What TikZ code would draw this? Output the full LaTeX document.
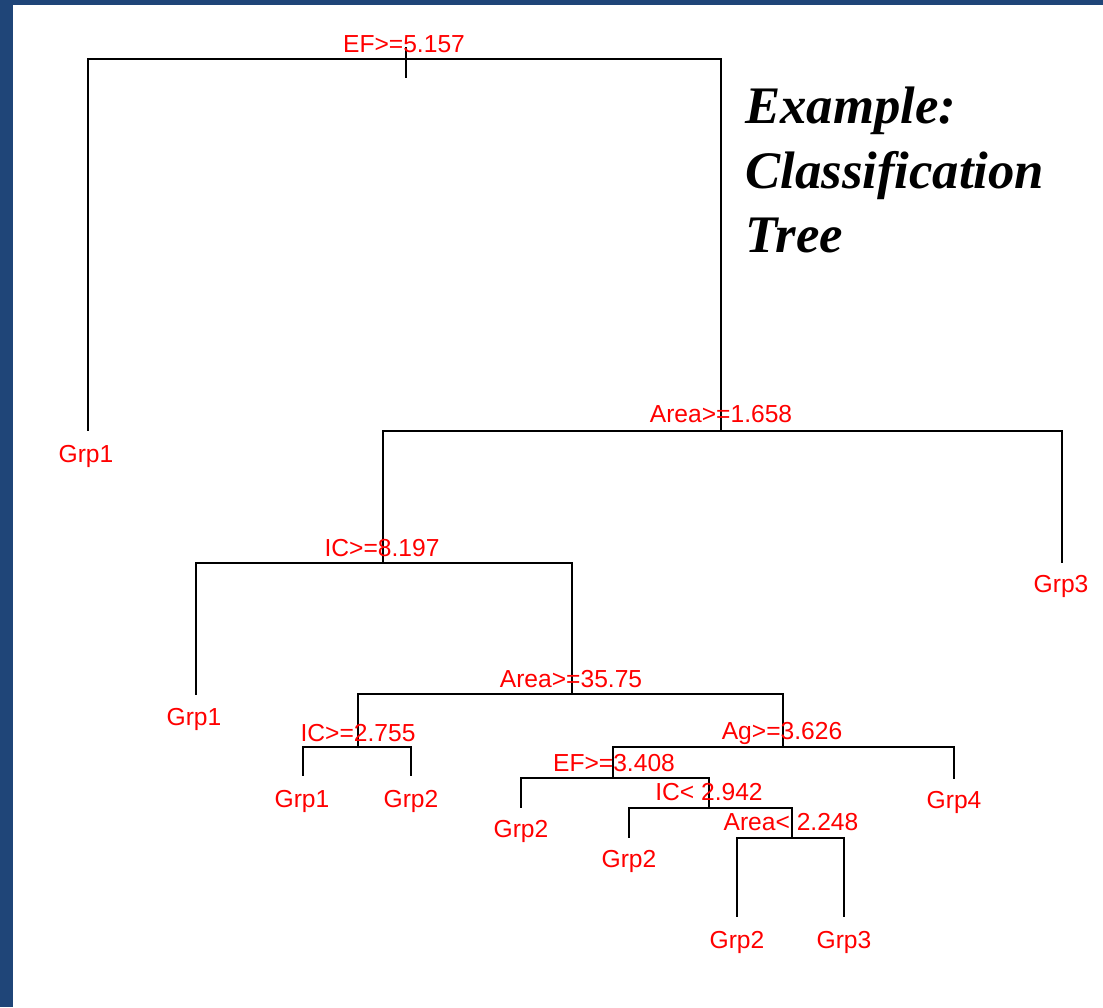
\documentclass[tikz,border=0pt]{standalone}
\usepackage{fontspec}
\setmainfont{Liberation Sans}
\newfontfamily\titlefont{Liberation Serif}
\definecolor{slideblue}{RGB}{31,69,120}

\begin{document}
\begin{tikzpicture}[x=0.025cm,y=-0.025cm,
    rule/.style={text=red,font=\fontsize{17.5}{20}\selectfont,inner sep=0pt,anchor=base},
    grp/.style={rule},
    heading/.style={font=\titlefont\bfseries\itshape\fontsize{37.5}{46}\selectfont,inner sep=0pt,anchor=base west}]
        \useasboundingbox (0,0) rectangle (1103,1007);
        \fill[slideblue] (0,0) rectangle (1103,1007);
        \fill[white] (12.7,5) rectangle (1103,1007);

        % split points
        \coordinate (s0) at (406, 59);
        \coordinate (s1) at (721, 431);
        \coordinate (s2) at (383, 563);
        \coordinate (s3) at (572, 694);
        \coordinate (s4) at (358, 747);
        \coordinate (s5) at (783, 747);
        \coordinate (s6) at (613, 778);
        \coordinate (s7) at (709, 808);
        \coordinate (s8) at (792, 838);
        \coordinate (rtop) at (406, 47);
        \coordinate (rbot) at (406, 78);

        % leaf ends
        \coordinate (t1) at (88, 431);
        \coordinate (t2) at (1062, 563);
        \coordinate (t3) at (196, 695);
        \coordinate (t4) at (303, 776);
        \coordinate (t5) at (411, 776);
        \coordinate (t6) at (954, 779);
        \coordinate (t7) at (521, 808);
        \coordinate (t8) at (629, 838);
        \coordinate (t9) at (737, 917);
        \coordinate (t10) at (844, 917);

        \draw[line width=1.5pt] (rtop) -- (rbot);
        \path[every edge/.style={draw,line width=1.5pt,to path={-| (\tikztotarget)}}]
            (s0) edge (t1) edge (s1)
            (s1) edge (s2) edge (t2)
            (s2) edge (t3) edge (s3)
            (s3) edge (s4) edge (s5)
            (s4) edge (t4) edge (t5)
            (s5) edge (s6) edge (t6)
            (s6) edge (t7) edge (s7)
            (s7) edge (t8) edge (s8)
            (s8) edge (t9) edge (t10)
            ;

        \node[rule] at (404, 52) (r0) {EF>=5.157};
        \node[rule] at (721, 422) (r1) {Area>=1.658};
        \node[rule] at (382, 556) (r2) {IC>=8.197};
        \node[rule] at (571, 687) (r3) {Area>=35.75};
        \node[rule] at (358, 741) (r4) {IC>=2.755};
        \node[rule] at (782, 739) (r5) {Ag>=3.626};
        \node[rule] at (614, 771) (r6) {EF>=3.408};
        \node[rule] at (709, 800) (r7) {IC< 2.942};
        \node[rule] at (791, 830) (r8) {Area< 2.248};

        \node[grp] at (86, 462) (g1) {Grp1};
        \node[grp] at (1061, 592) (g2) {Grp3};
        \node[grp] at (194, 725) (g3) {Grp1};
        \node[grp] at (302, 807) (g4) {Grp1};
        \node[grp] at (411, 807) (g5) {Grp2};
        \node[grp] at (954, 808) (g6) {Grp4};
        \node[grp] at (521, 837) (g7) {Grp2};
        \node[grp] at (629, 867) (g8) {Grp2};
        \node[grp] at (737, 948) (g9) {Grp2};
        \node[grp] at (844, 948) (g10) {Grp3};

        \node[heading] at (745, 123) (h1) {Example:};
        \node[heading] at (745, 188) (h2) {Classification};
        \node[heading] at (745, 252) (h3) {Tree};
\end{tikzpicture}
\end{document}
